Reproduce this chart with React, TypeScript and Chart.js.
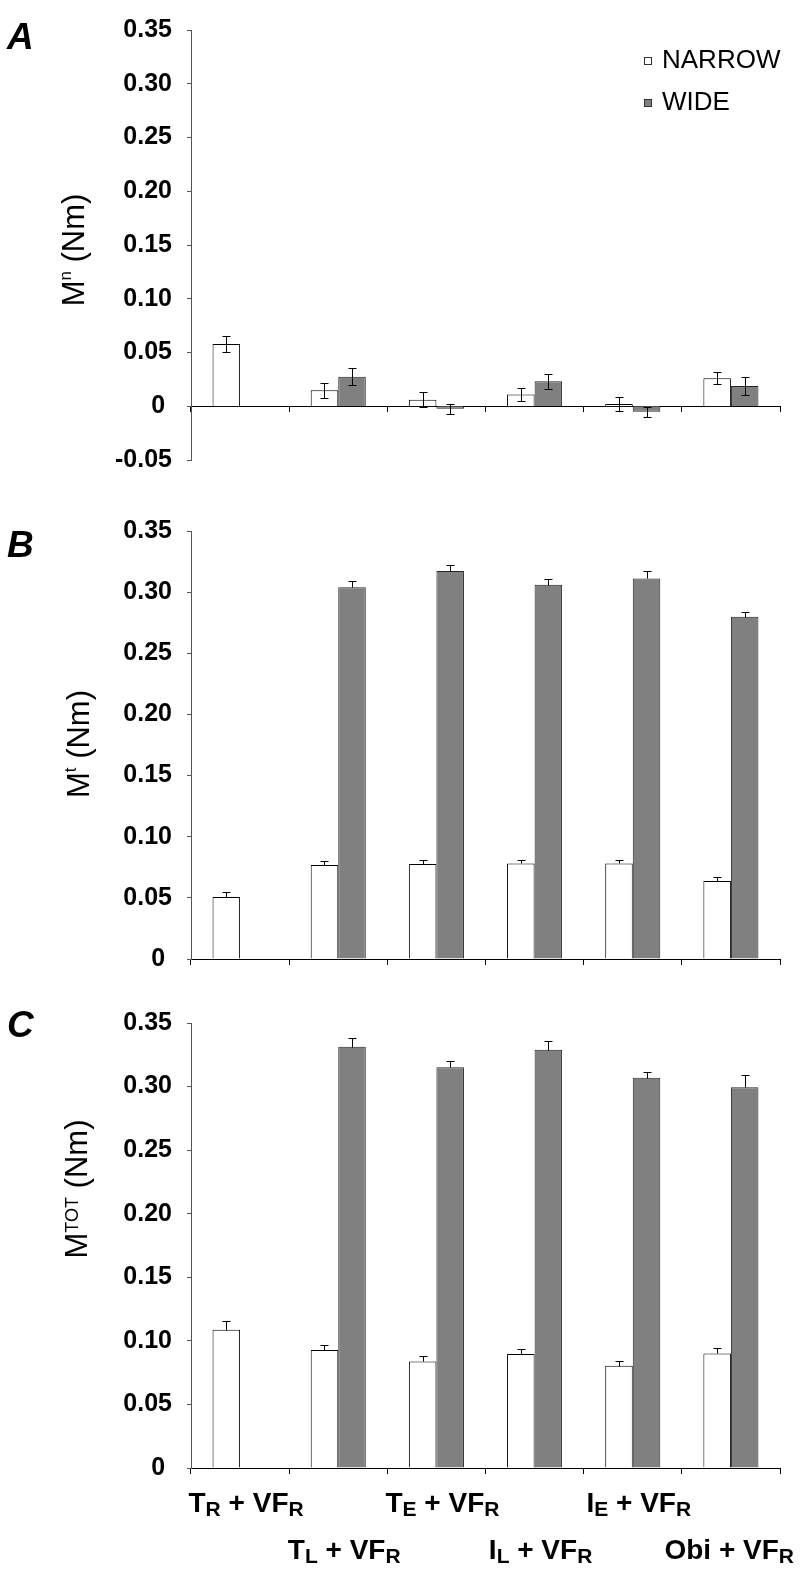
import React, { useEffect, useRef } from 'react';
import { Chart, registerables } from 'chart.js';

Chart.register(...registerables);

const FONT = "'Liberation Sans', Arial, Helvetica, sans-serif";

// Categories (underscore = subscript character)
const categories = ['T_R + VF_R', 'T_L + VF_R', 'T_E + VF_R', 'I_L + VF_R', 'I_E + VF_R', 'Obi + VF_R'];
const seriesLabels = ['NARROW', 'WIDE'];
const seriesFills = ['#ffffff', '#808080'];
const seriesBorders = ['#000000', '#262626'];

// Panel A: M^n (Nm)
const mnNarrow = [0.058, 0.015, 0.006, 0.011, 0.002, 0.026];
const mnNarrowErr = [0.0072, 0.007, 0.0069, 0.006, 0.0067, 0.0057];
const mnWide = [null, 0.0274, -0.0024, 0.0233, -0.0051, 0.0188];
const mnWideErr = [null, 0.0079, 0.0048, 0.007, 0.0047, 0.0085];

// Panel B: M^t (Nm)
const mtNarrow = [0.0507, 0.0768, 0.0776, 0.0781, 0.0781, 0.0637];
const mtNarrowErr = [0.0041, 0.0035, 0.0033, 0.0027, 0.0027, 0.0033];
const mtWide = [null, 0.3039, 0.3172, 0.306, 0.3112, 0.2799];
const mtWideErr = [null, 0.0052, 0.0052, 0.0044, 0.0057, 0.0035];

// Panel C: M^TOT (Nm)
const mtotNarrow = [0.1087, 0.0928, 0.0838, 0.0896, 0.0805, 0.0901];
const mtotNarrowErr = [0.0067, 0.0041, 0.0043, 0.004, 0.004, 0.0043];
const mtotWide = [null, 0.3313, 0.3151, 0.329, 0.307, 0.2995];
const mtotWideErr = [null, 0.0067, 0.0052, 0.0067, 0.0043, 0.0096];

// Axis
const yMaxValue = 0.35;
const yStep = 0.05;
const yMinA = -0.05;
const yMinBC = 0;

type Val = number | null;

interface PanelDef {
  letter: string;
  title: string;
  narrow: Val[];
  narrowErr: Val[];
  wide: Val[];
  wideErr: Val[];
  yMin: number;
  twoSided: boolean;
  legend: boolean;
  xLabels: boolean;
  top: number;
  height: number;
  padTop: number;
  padBottom: number;
  letterBaseline: number;
  titleX: number;
  titleY: number;
}

const panels: PanelDef[] = [
  {
    letter: 'A', title: 'M^n (Nm)', narrow: mnNarrow, narrowErr: mnNarrowErr, wide: mnWide, wideErr: mnWideErr,
    yMin: yMinA, twoSided: true, legend: true, xLabels: false,
    top: 0, height: 490, padTop: 17, padBottom: 26, letterBaseline: 49, titleX: 84, titleY: 250,
  },
  {
    letter: 'B', title: 'M^t (Nm)', narrow: mtNarrow, narrowErr: mtNarrowErr, wide: mtWide, wideErr: mtWideErr,
    yMin: yMinBC, twoSided: false, legend: false, xLabels: false,
    top: 490, height: 500, padTop: 41, padBottom: 31, letterBaseline: 67, titleX: 89, titleY: 254,
  },
  {
    letter: 'C', title: 'M^TOT (Nm)', narrow: mtotNarrow, narrowErr: mtotNarrowErr, wide: mtotWide, wideErr: mtotWideErr,
    yMin: yMinBC, twoSided: false, legend: false, xLabels: true,
    top: 990, height: 588, padTop: 33, padBottom: 110, letterBaseline: 47, titleX: 87, titleY: 199,
  },
];

type Seg = { text: string; size: number; dy: number };

function drawSegs(ctx: CanvasRenderingContext2D, segs: Seg[], x: number, y: number, align: 'left' | 'center', weight: string, maxRight?: number) {
  const widths = segs.map((s) => {
    ctx.font = `normal ${weight} ${s.size}px ${FONT}`;
    return ctx.measureText(s.text).width;
  });
  const total = widths.reduce((a, b) => a + b, 0);
  let cx = align === 'center' ? x - total / 2 : x;
  if (maxRight !== undefined && cx + total > maxRight) cx = maxRight - total;
  ctx.textAlign = 'left';
  ctx.textBaseline = 'alphabetic';
  segs.forEach((s, i) => {
    ctx.font = `normal ${weight} ${s.size}px ${FONT}`;
    ctx.fillText(s.text, cx, y + s.dy);
    cx += widths[i];
  });
}

function parseSub(label: string, main: number, sub: number, dy: number): Seg[] {
  const segs: Seg[] = [];
  const re = /_(\w)/g;
  let last = 0;
  let m: RegExpExecArray | null;
  while ((m = re.exec(label))) {
    if (m.index > last) segs.push({ text: label.slice(last, m.index), size: main, dy: 0 });
    segs.push({ text: m[1], size: sub, dy });
    last = m.index + m[0].length;
  }
  if (last < label.length) segs.push({ text: label.slice(last), size: main, dy: 0 });
  return segs;
}

function parseSup(label: string, main: number): Seg[] {
  const segs: Seg[] = [];
  const re = /\^(\S+)/g;
  let last = 0;
  let m: RegExpExecArray | null;
  while ((m = re.exec(label))) {
    if (m.index > last) segs.push({ text: label.slice(last, m.index), size: main, dy: 0 });
    const t = m[1];
    const lower = t === t.toLowerCase();
    const size = lower ? 17 : 18;
    const raise = main * 0.716 - size * (lower ? 0.519 : 0.716);
    segs.push({ text: t, size, dy: -raise });
    last = m.index + m[0].length;
  }
  if (last < label.length) segs.push({ text: label.slice(last), size: main, dy: 0 });
  return segs;
}

function makeDecor(p: PanelDef) {
  return {
    id: 'decor' + p.letter,
    afterDatasetsDraw(chart: any) {
      const ctx: CanvasRenderingContext2D = chart.ctx;
      const ys = chart.scales.y;
      const errs = [p.narrowErr, p.wideErr];
      ctx.save();
      ctx.strokeStyle = '#000';
      ctx.lineWidth = 1;
      chart.data.datasets.forEach((ds: any, di: number) => {
        const meta = chart.getDatasetMeta(di);
        ds.data.forEach((v: Val, i: number) => {
          const e = errs[di][i];
          if (v == null || e == null) return;
          const el = meta.data[i];
          const x = Math.round(el.x) + 0.5;
          const yTop = Math.round(ys.getPixelForValue(v + e)) + 0.5;
          const yBot = Math.round(ys.getPixelForValue(p.twoSided ? v - e : v)) + 0.5;
          ctx.beginPath();
          ctx.moveTo(x, yTop);
          ctx.lineTo(x, yBot);
          ctx.moveTo(x - 4, yTop);
          ctx.lineTo(x + 4, yTop);
          if (p.twoSided) {
            ctx.moveTo(x - 4, yBot);
            ctx.lineTo(x + 4, yBot);
          }
          ctx.stroke();
        });
      });
      ctx.restore();
    },
    afterDraw(chart: any) {
      const ctx: CanvasRenderingContext2D = chart.ctx;
      ctx.save();
      ctx.fillStyle = '#000';
      // panel letter
      ctx.font = `italic bold 37px ${FONT}`;
      ctx.textAlign = 'left';
      ctx.textBaseline = 'alphabetic';
      ctx.fillText(p.letter, 7, p.letterBaseline);
      // y-axis title (rotated)
      ctx.save();
      ctx.translate(p.titleX, p.titleY);
      ctx.rotate(-Math.PI / 2);
      drawSegs(ctx, parseSup(p.title, 31), 0, 0, 'center', 'normal');
      ctx.restore();
      // legend
      if (p.legend) {
        const area = chart.chartArea;
        chart.data.datasets.forEach((ds: any, di: number) => {
          const baseY = 68 + di * 42;
          const bx = area.right - 136;
          ctx.fillStyle = ds.backgroundColor;
          ctx.fillRect(bx, baseY - 11, 7, 7);
          ctx.strokeStyle = '#333';
          ctx.lineWidth = 1;
          ctx.strokeRect(bx + 0.5, baseY - 10.5, 7, 7);
          ctx.fillStyle = '#000';
          ctx.font = `normal 26px ${FONT}`;
          ctx.textAlign = 'left';
          ctx.fillText(ds.label, bx + 18, baseY);
        });
      }
      // x labels (staggered)
      if (p.xLabels) {
        const xs = chart.scales.x;
        ctx.fillStyle = '#000';
        chart.data.labels.forEach((lab: string, i: number) => {
          const cx = xs.getPixelForValue(i) + 6;
          const baseY = i % 2 === 0 ? 522 : 569;
          drawSegs(ctx, parseSub(lab, 28, 21, 4), cx, baseY, 'center', 'bold', 794);
        });
      }
      ctx.restore();
    },
  };
}

function Panel({ p }: { p: PanelDef }) {
  const ref = useRef<HTMLCanvasElement>(null);
  useEffect(() => {
    if (!ref.current) return;
    const chart = new Chart(ref.current, {
      type: 'bar',
      data: {
        labels: categories,
        datasets: [
          { label: seriesLabels[0], data: p.narrow as any, backgroundColor: seriesFills[0], borderColor: seriesBorders[0], borderWidth: 1 },
          { label: seriesLabels[1], data: p.wide as any, backgroundColor: seriesFills[1], borderColor: seriesBorders[1], borderWidth: 1 },
        ],
      },
      options: {
        responsive: false,
        animation: false,
        devicePixelRatio: 1,
        layout: { padding: { top: p.padTop, bottom: p.padBottom, left: 0, right: 20 } },
        plugins: { legend: { display: false }, tooltip: { enabled: false }, title: { display: false } },
        datasets: { bar: { categoryPercentage: 0.561, barPercentage: 1 } },
        scales: {
          x: {
            position: { y: 0 } as any,
            z: 1,
            grid: { offset: true, drawOnChartArea: false, color: '#000', tickLength: 5, lineWidth: 1 },
            border: { color: '#000', width: 1 },
            ticks: { display: false },
          },
          y: {
            min: p.yMin,
            max: yMaxValue,
            grid: { drawOnChartArea: false, tickLength: 4, color: '#555' },
            border: { color: '#555', width: 1 },
            ticks: {
              stepSize: yStep,
              padding: 15,
              color: '#000',
              font: { family: FONT, size: 25, weight: 'bold' },
              callback: (v: any) => (Math.abs(Number(v)) < 1e-9 ? '0 ' : Number(v).toFixed(2)),
            },
            afterFit: (s: any) => {
              s.width = 191;
            },
          },
        },
      },
      plugins: [makeDecor(p)],
    } as any);
    return () => chart.destroy();
  }, [p]);
  return (
    <canvas
      ref={ref}
      width={800}
      height={p.height}
      style={{ position: 'absolute', left: 0, top: p.top, width: 800, height: p.height }}
    />
  );
}

export default function App() {
  return (
    <div style={{ position: 'absolute', left: 0, top: 0, width: 800, height: 1578, background: '#fff' }}>
      {panels.map((p) => (
        <Panel key={p.letter} p={p} />
      ))}
    </div>
  );
}
